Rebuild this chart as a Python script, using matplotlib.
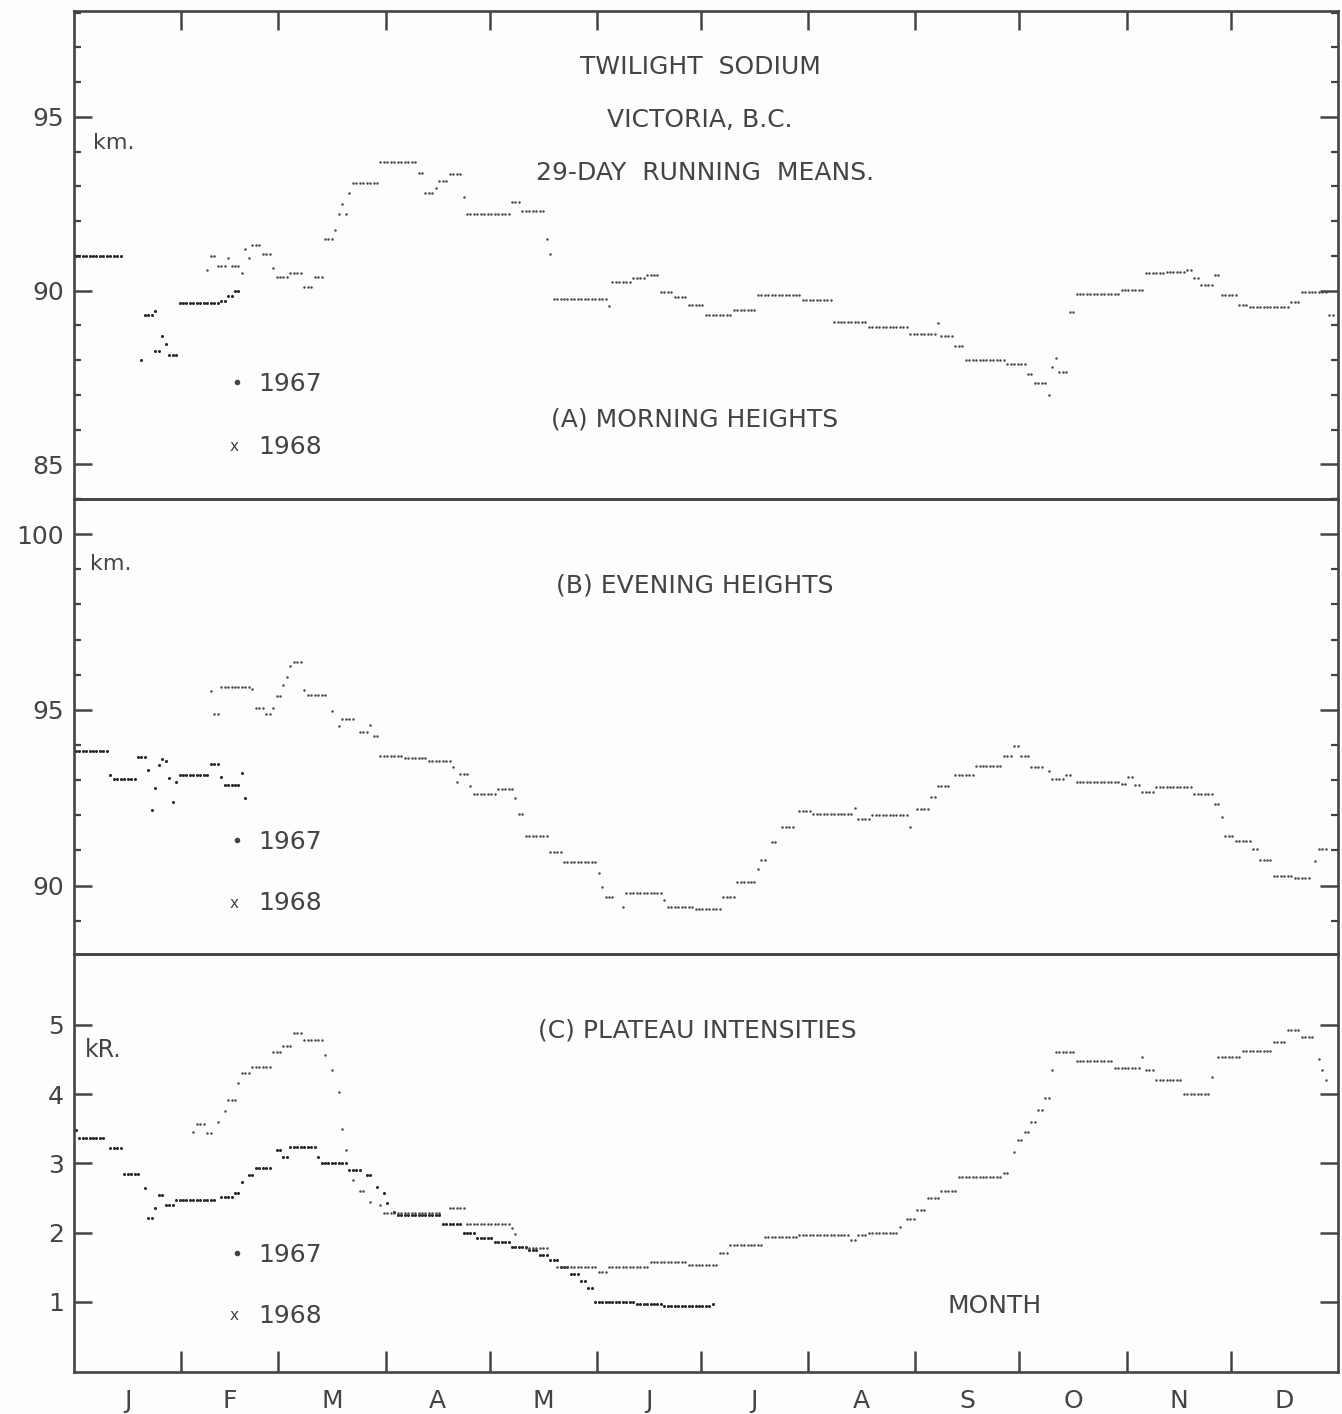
import matplotlib
matplotlib.use("Agg")
import matplotlib.pyplot as plt
import numpy as np

plt.rcParams['font.family'] = ['DejaVu Sans']

# runs of (number of days, value); None = no point.  Day 1 = Jan 1
morning_1968_a = (1, [(14, 91.0)])
morning_1968_b = (21, [(3, 89.3), (1, 89.4)])
morning_1968_c = (20, [(1, 88.0), (3, None), (2, 88.25), (1, 88.7), (1, 88.45), (3, 88.15)])
morning_1968_d = (31, [(12, 89.63), (2, 89.7), (2, 89.85), (2, 90.0)])
morning_1967 = (39, [
    (1, 90.6), (2, 91.0), (3, 90.7), (1, 90.95), (3, 90.7), (1, 90.5), (1, 91.2),
    (1, 90.95), (3, 91.3), (3, 91.05), (1, 90.65), (4, 90.4), (4, 90.5), (3, 90.1),
    (3, 90.4), (3, 91.5), (1, 91.75), (1, 92.2), (1, 92.5), (1, 92.2), (1, 92.8),
    (8, 93.1), (11, 93.7), (2, 93.4), (3, 92.8), (1, 92.95), (3, 93.15), (4, 93.35),
    (1, 92.7), (13, 92.2), (3, 92.55), (7, 92.3), (1, 91.5), (1, 91.05), (16, 89.75),
    (1, 89.55), (6, 90.25), (4, 90.35), (4, 90.45), (4, 89.97), (4, 89.83), (5, 89.6),
    (8, 89.3), (7, 89.45), (13, 89.88), (9, 89.74), (10, 89.1), (12, 88.94), (8, 88.74),
    (1, 89.08), (4, 88.7), (3, 88.4), (12, 88.0), (6, 87.9), (2, 87.6), (4, 87.35),
    (1, 87.0), (1, 87.8), (1, 88.05), (3, 87.67), (2, 89.37), (13, 89.9), (7, 90.03),
    (6, 90.5), (6, 90.55), (2, 90.6), (2, 90.37), (4, 90.17), (2, 90.45), (5, 89.88),
    (3, 89.6), (12, 89.54), (3, 89.68), (8, 89.97), (2, 89.3),
])

evening_1968 = (1, [
    (10, 93.84), (1, 93.14), (7, 93.03), (3, 93.66), (1, 93.3), (1, 92.14), (1, 92.77),
    (1, 93.43), (1, 93.6), (1, 93.55), (1, 93.06), (1, 92.37), (1, 92.94), (9, 93.14),
    (3, 93.46), (1, 93.1), (5, 92.86), (1, 93.2), (1, 92.5),
])
evening_1967 = (40, [
    (1, 95.54), (2, 94.89), (9, 95.66), (1, 95.6), (3, 95.06), (2, 94.89), (1, 95.06),
    (2, 95.4), (1, 95.7), (1, 95.94), (1, 96.26), (3, 96.37), (1, 95.57), (6, 95.43),
    (1, None), (1, 94.97), (1, None), (1, 94.54), (4, 94.75), (1, None), (3, 94.37),
    (1, 94.57), (2, 94.26), (7, 93.68), (7, 93.62), (7, 93.55), (1, 93.37), (1, 92.94),
    (3, 93.17), (1, 92.83), (7, 92.6), (5, 92.74), (1, 92.5), (2, 92.03), (7, 91.4),
    (4, 90.95), (10, 90.66), (1, 90.37), (1, 89.97), (3, 89.66), (2, None), (1, 89.4),
    (11, 89.8), (1, 89.6), (8, 89.4), (8, 89.33), (4, 89.66), (6, 90.11), (1, 90.46),
    (2, 90.74), (1, None), (2, 91.23), (1, None), (4, 91.66), (1, None), (4, 92.11),
    (12, 92.03), (1, 92.2), (4, 91.9), (11, 92.0), (1, 91.66), (1, None), (4, 92.17),
    (2, 92.51), (4, 92.83), (1, None), (6, 93.14), (8, 93.4), (3, 93.69), (2, 93.97),
    (3, 93.69), (4, 93.37), (1, None), (1, 93.26), (4, 93.03), (2, 93.14), (1, None),
    (13, 92.94), (2, 92.9), (2, 93.1), (2, 92.85), (4, 92.66), (11, 92.8), (6, 92.6),
    (2, 92.31), (1, 91.94), (3, 91.4), (5, 91.26), (2, 91.03), (4, 90.74), (6, 90.28),
    (5, 90.22), (1, None), (1, 90.69), (3, 91.03),
])

plateau_1968 = (1, [
    (1, 3.48), (8, 3.37), (1, None), (4, 3.22), (5, 2.85), (1, None), (1, 2.65),
    (2, 2.21), (1, 2.36), (2, 2.55), (3, 2.4), (12, 2.47), (1, None), (4, 2.52),
    (2, 2.57), (1, 2.73), (1, None), (2, 2.83), (5, 2.93), (1, None), (2, 3.19),
    (2, 3.09), (8, 3.24), (1, 3.09), (8, 3.0), (4, 2.9), (1, None), (2, 2.83),
    (1, None), (1, 2.66), (1, None), (1, 2.57), (1, 2.43), (1, None), (1, 2.3),
    (13, 2.26), (6, 2.13), (4, 2.0), (5, 1.93), (5, 1.86), (5, 1.8), (3, 1.75),
    (3, 1.68), (3, 1.6), (3, 1.5), (3, 1.4), (2, 1.3), (2, 1.2), (12, 1.0),
    (8, 0.97), (14, 0.94), (1, 0.97),
])
plateau_1967 = (35, [
    (1, 3.45), (3, 3.57), (2, 3.44), (1, None), (1, 3.6), (1, None), (1, 3.76),
    (3, 3.91), (1, 4.16), (3, 4.3), (6, 4.39), (3, 4.6), (3, 4.7), (3, 4.88),
    (6, 4.78), (1, 4.57), (1, None), (1, 4.35), (1, None), (1, 4.03), (1, 3.5),
    (1, 3.19), (1, None), (1, 2.76), (1, None), (2, 2.6), (1, None), (1, 2.44),
    (2, None), (1, 2.4), (17, 2.28), (2, None), (5, 2.35), (13, 2.12), (1, 2.07),
    (1, 1.98), (2, None), (7, 1.78), (2, None), (12, 1.5), (3, 1.43), (12, 1.5),
    (11, 1.58), (9, 1.53), (3, 1.7), (10, 1.82), (10, 1.94), (15, 1.97), (2, 1.9),
    (3, 1.97), (9, 2.0), (1, 2.08), (1, None), (3, 2.2), (3, 2.33), (4, 2.5),
    (5, 2.6), (13, 2.8), (2, 2.86), (1, None), (1, 3.16), (2, 3.34), (2, 3.45),
    (2, 3.6), (2, 3.77), (2, 3.95), (1, 4.35), (6, 4.6), (11, 4.48), (8, 4.37),
    (1, 4.53), (3, 4.35), (8, 4.2), (8, 4.0), (1, 4.25), (1, None), (7, 4.53),
    (9, 4.62), (4, 4.75), (4, 4.92), (4, 4.82), (1, None), (1, 4.5), (1, 4.35),
    (1, 4.2),
])

month_names = ['J', 'F', 'M', 'A', 'M', 'J', 'J', 'A', 'S', 'O', 'N', 'D']
month_lengths = [31, 28, 31, 30, 31, 30, 31, 31, 30, 31, 30, 31]

INK = '#444444'
DOT = '#262626'
FS = 18


def expand(series):
    start, runs = series
    days, vals = [], []
    d = start
    for n, v in runs:
        if v is not None:
            days.extend(range(d, d + n))
            vals.extend([v] * n)
        d += n
    return np.array(days) - 0.5, np.array(vals)


def draw_1967(ax, series):
    x, y = expand(series)
    ax.plot(x, y, 'o', ms=1.8, color='#4a4a4a', mew=0)


def draw_1968(ax, series):
    x, y = expand(series)
    ax.plot(x, y, 'o', ms=2.2, color=DOT, mew=0)


def style_axes(ax, ylim, major, minor):
    ax.set_xlim(0, 365)
    ax.set_ylim(*ylim)
    for s in ax.spines.values():
        s.set_linewidth(1.9)
        s.set_color(INK)
    ax.set_yticks(major)
    ax.set_yticks(minor, minor=True)
    ax.tick_params(axis='y', which='major', direction='in', left=True, right=True,
                   length=13, width=1.8, color=INK, labelsize=FS, labelcolor=INK, pad=7)
    ax.tick_params(axis='y', which='minor', direction='in', left=True, right=True,
                   length=5, width=1.6, color=INK)
    ax.set_xticks([])


def legend_marks(ax, y67, y68):
    ax.plot([0.129], [y67 + 0.005], 'o', ms=3, color=INK, transform=ax.transAxes)
    ax.text(0.127, y68, 'x', transform=ax.transAxes, fontsize=11, color=INK,
            ha='center', va='center')
    ax.text(0.146, y67, '1967', transform=ax.transAxes, fontsize=FS, color=INK, va='center')
    ax.text(0.146, y68, '1968', transform=ax.transAxes, fontsize=FS, color=INK, va='center')


def label(ax, x, y, s, size=FS, ha='center'):
    ax.text(x, y, s, transform=ax.transAxes, fontsize=size, color=INK, ha=ha, va='center')


month_edges = np.cumsum(month_lengths)[:-1]
month_mids = np.cumsum(month_lengths) - np.array(month_lengths) / 2

fig = plt.figure(figsize=(13.42, 14.14), dpi=100)
fig.patch.set_facecolor('#fdfdfb')

left, width = 0.0551, 0.9419
ax_a = fig.add_axes([left, 0.6471, width, 0.3451])
ax_b = fig.add_axes([left, 0.3253, width, 0.3218])
ax_c = fig.add_axes([left, 0.0297, width, 0.2956])
for ax in (ax_a, ax_b, ax_c):
    ax.set_facecolor('none')

# (A) morning heights
style_axes(ax_a, (84.0, 98.05), [85, 90, 95], np.arange(84, 99))
ax_a.set_xticks(month_edges)
ax_a.tick_params(axis='x', which='major', direction='in', top=True, bottom=False,
                 labelbottom=False, length=14, width=1.8, color=INK)
for s in (morning_1968_a, morning_1968_b, morning_1968_c, morning_1968_d):
    draw_1968(ax_a, s)
draw_1967(ax_a, morning_1967)
label(ax_a, 0.496, 0.885, 'TWILIGHT  SODIUM')
label(ax_a, 0.495, 0.777, 'VICTORIA, B.C.')
label(ax_a, 0.499, 0.668, '29-DAY  RUNNING  MEANS.')
label(ax_a, 0.491, 0.162, '(A) MORNING HEIGHTS')
label(ax_a, 0.015, 0.7295, 'km.', size=16, ha='left')
legend_marks(ax_a, 0.2357, 0.1066)

# (B) evening heights
style_axes(ax_b, (88.05, 101.0), [90, 95, 100], np.arange(89, 102))
draw_1968(ax_b, evening_1968)
draw_1967(ax_b, evening_1967)
label(ax_b, 0.491, 0.811, '(B) EVENING HEIGHTS')
label(ax_b, 0.0127, 0.857, 'km.', size=16, ha='left')
legend_marks(ax_b, 0.246, 0.112)

# (C) plateau intensities
style_axes(ax_c, (-0.01, 6.02), [1, 2, 3, 4, 5], [])
ax_c.set_xticks(month_edges)
ax_c.set_xticks(month_mids, labels=month_names, minor=True)
ax_c.tick_params(axis='x', which='major', direction='in', bottom=True, top=False,
                 labelbottom=False, length=15, width=1.8, color=INK)
ax_c.tick_params(axis='x', which='minor', length=0, labelsize=FS, labelcolor=INK, pad=12)
draw_1968(ax_c, plateau_1968)
draw_1967(ax_c, plateau_1967)
label(ax_c, 0.493, 0.816, '(C) PLATEAU INTENSITIES')
label(ax_c, 0.0087, 0.770, 'kR.', size=17, ha='left')
label(ax_c, 0.7286, 0.158, 'MONTH')
legend_marks(ax_c, 0.28, 0.134)

fig.savefig('out.png', dpi=100, facecolor=fig.get_facecolor())
